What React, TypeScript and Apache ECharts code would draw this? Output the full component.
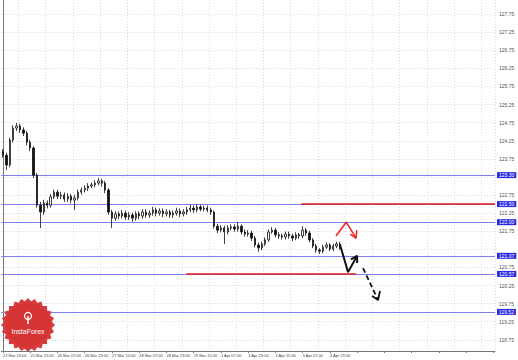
import React, { useEffect, useRef } from "react";
import * as echarts from "echarts";

// 2-hour bars, 8 bars between time labels
const xTickLabels = [
  "22 Mar 23:00", "25 Mar 15:00", "26 Mar 07:00", "26 Mar 23:00", "27 Mar 15:00",
  "28 Mar 07:00", "28 Mar 23:00", "29 Mar 15:00", "1 Apr 07:00", "1 Apr 23:00",
  "2 Apr 15:00", "3 Apr 07:00", "3 Apr 23:00",
];
const BARS_PER_LABEL = 8;
const TOTAL_SLOTS = 145;

const firstOpen = 123.95;
const closes = [
  123.85, 123.58, 124.27, 124.60, 124.66, 124.55, 124.46, 124.21, 124.05, 123.30,
  122.47, 122.28, 122.53, 122.47, 122.70, 122.83, 122.72, 122.75, 122.64, 122.72,
  122.61, 122.67, 122.83, 122.89, 122.94, 123.00, 123.03, 123.08, 123.14, 123.08,
  122.89, 122.28, 122.11, 122.23, 122.17, 122.25, 122.14, 122.20, 122.11, 122.23,
  122.17, 122.28, 122.20, 122.25, 122.34, 122.25, 122.31, 122.23, 122.28, 122.20,
  122.25, 122.31, 122.23, 122.28, 122.34, 122.39, 122.34, 122.42, 122.36, 122.39,
  122.34, 122.28, 121.89, 121.78, 121.84, 121.73, 121.84, 121.87, 121.81, 121.89,
  121.73, 121.67, 121.70, 121.56, 121.37, 121.29, 121.40, 121.51, 121.73, 121.78,
  121.65, 121.62, 121.59, 121.67, 121.62, 121.56, 121.65, 121.62, 121.78, 121.70,
  121.51, 121.34, 121.23, 121.20, 121.31, 121.37, 121.26, 121.34, 121.40, 121.31,
];
const highs = [
  124.02, 123.92, 124.33, 124.68, 124.74, 124.72, 124.62, 124.52, 124.28, 124.10,
  123.36, 122.56, 122.62, 122.60, 122.78, 122.90, 122.90, 122.84, 122.82, 122.80,
  122.78, 122.76, 122.90, 122.96, 123.02, 123.08, 123.10, 123.16, 123.22, 123.20,
  123.14, 122.94, 122.34, 122.30, 122.30, 122.34, 122.32, 122.28, 122.26, 122.30,
  122.30, 122.36, 122.36, 122.32, 122.42, 122.40, 122.38, 122.38, 122.36, 122.34,
  122.32, 122.40, 122.38, 122.36, 122.42, 122.48, 122.46, 122.50, 122.48, 122.46,
  122.46, 122.40, 122.32, 121.96, 121.92, 121.90, 121.92, 121.94, 121.94, 122.00,
  121.94, 121.80, 121.78, 121.76, 121.62, 121.44, 121.46, 121.58, 121.80, 121.86,
  121.84, 121.72, 121.68, 121.74, 121.74, 121.68, 121.72, 121.70, 121.89, 121.84,
  121.76, 121.56, 121.40, 121.28, 121.38, 121.44, 121.42, 121.40, 121.46, 121.46,
];
const lows = [
  123.78, 123.44, 123.52, 124.20, 124.52, 124.47, 124.38, 124.12, 123.96, 123.22,
  122.40, 121.84, 122.20, 122.38, 122.40, 122.64, 122.64, 122.64, 122.56, 122.56,
  122.52, 122.34, 122.60, 122.76, 122.82, 122.86, 122.94, 122.96, 123.02, 122.98,
  122.80, 122.20, 121.84, 122.04, 122.08, 122.10, 122.06, 122.06, 122.02, 122.04,
  122.08, 122.10, 122.12, 122.12, 122.18, 122.16, 122.18, 122.14, 122.16, 122.12,
  122.12, 122.18, 122.14, 122.16, 122.20, 122.28, 122.26, 122.28, 122.30, 122.30,
  122.28, 122.20, 121.82, 121.70, 121.72, 121.40, 121.66, 121.78, 121.74, 121.74,
  121.66, 121.60, 121.60, 121.48, 121.30, 121.18, 121.22, 121.34, 121.46, 121.68,
  121.58, 121.54, 121.52, 121.52, 121.54, 121.48, 121.50, 121.54, 121.56, 121.62,
  121.44, 121.28, 121.16, 121.12, 121.14, 121.26, 121.20, 121.20, 121.28, 121.24,
];

// price axis
const yMin = 118.44;
const yMax = 128.14;
const yTickLabels = [
  127.75, 127.25, 126.75, 126.25, 125.75, 125.25, 124.75, 124.25, 123.75, 123.25,
  122.75, 122.25, 121.75, 121.25, 120.75, 120.25, 119.75, 119.25, 118.75, 118.25,
];

// horizontal levels
const blueLevels = [123.3, 122.5, 122.0, 121.07, 120.57, 119.52];
const currentPrice = 121.31;
const redUpper = [[87.6, 122.5], [144.5, 122.5]];
const redLower = [[53.8, 120.57], [103.7, 120.57]];

// forecast arrows (bar index, price)
const redArrow = [[97.8, 121.62], [100.8, 122.0], [103.7, 121.56]];
const redHead = [[102.0, 121.67], [103.7, 121.56], [103.9, 121.78]];
const blackArrow = [[99.0, 121.37], [101.35, 120.62], [104.0, 121.07]];
const blackHead = [[102.2, 120.97], [104.0, 121.07], [104.0, 120.87]];
const dashArrow = [[105.75, 120.73], [110.15, 119.85]];
const dashHead = [[108.4, 119.96], [110.15, 119.85], [110.74, 120.1]];

const categories = Array.from({ length: TOTAL_SLOTS }, (_, i) => String(i));

function buildCandles() {
  return closes.map((c, i) => {
    const o = i === 0 ? firstOpen : closes[i - 1];
    return [o, c, lows[i], highs[i]];
  });
}

function starPoints(cx: number, cy: number, ro: number, ri: number, n: number) {
  const pts: number[][] = [];
  for (let k = 0; k < n * 2; k++) {
    const r = k % 2 === 0 ? ro : ri;
    const a = (k * Math.PI) / n;
    pts.push([cx + r * Math.cos(a), cy + r * Math.sin(a)]);
  }
  return pts;
}

export default function App() {
  const ref = useRef<HTMLDivElement>(null);
  useEffect(() => {
    if (!ref.current) return;
    const chart = echarts.init(ref.current, undefined, { renderer: "svg" });
    const font = "Liberation Sans";
    const boxed = [...blueLevels, currentPrice];
    const lineSeries = (data: number[][], color: string, width: number, type: any = "solid", z = 5) => ({
      type: "line",
      xAxisIndex: 1,
      data,
      showSymbol: false,
      symbol: "none",
      silent: true,
      z,
      lineStyle: { color, width, type },
    });
    const boxLabel = (v: number, bg: string) => ({
      show: true,
      position: "end",
      distance: 2,
      fontSize: 5,
      lineHeight: 5,
      fontFamily: font,
      color: "#ffffff",
      backgroundColor: bg,
      padding: [0.5, 2],
      formatter: () => v.toFixed(2),
    });
    chart.setOption({
      animation: false,
      backgroundColor: "#ffffff",
      grid: { left: 0, right: 23, top: 0, bottom: 9, containLabel: false },
      xAxis: [
        {
          type: "category",
          data: categories,
          boundaryGap: true,
          axisLine: { show: true, lineStyle: { color: "#777", width: 1 } },
          axisTick: { show: true, interval: BARS_PER_LABEL - 1, alignWithLabel: true, length: 2, lineStyle: { color: "#777" } },
          axisLabel: {
            interval: BARS_PER_LABEL - 1,
            align: "left",
            margin: 2,
            fontSize: 4,
            fontFamily: font,
            color: "#444",
            formatter: (_v: string, idx: number) => {
              const k = idx / BARS_PER_LABEL;
              return Number.isInteger(k) && k < xTickLabels.length ? xTickLabels[k] : "";
            },
          },
          splitLine: {
            show: true,
            interval: (idx: number) => idx % BARS_PER_LABEL === 5,
            lineStyle: { color: "#dadada", type: [1, 2], width: 1 },
          },
        },
        { type: "value", min: -0.5, max: TOTAL_SLOTS - 0.5, show: false },
      ],
      yAxis: {
        type: "value",
        position: "right",
        min: yMin,
        max: yMax,
        axisLine: { show: true, lineStyle: { color: "#777", width: 1 } },
        axisTick: { show: false },
        axisLabel: { show: false },
        splitLine: { show: false },
      },
      series: [
        {
          type: "candlestick",
          data: buildCandles(),
          barWidth: "55%",
          z: 3,
          itemStyle: {
            color: "#ffffff",
            color0: "#111111",
            borderColor: "#111111",
            borderColor0: "#111111",
            borderWidth: 0.8,
          },
          markLine: {
            silent: true,
            symbol: "none",
            z: 1,
            data: [
              ...yTickLabels
                .filter((v) => v >= yMin && v <= yMax)
                .map((v) => {
                  const hidden = boxed.some((b) => Math.abs(b - v) < 0.17);
                  return {
                    yAxis: v,
                    lineStyle: { color: "#dadada", type: [1, 2], width: 1 },
                    label: {
                      show: !hidden,
                      position: "end",
                      distance: 4,
                      fontSize: 5,
                      fontFamily: font,
                      color: "#555",
                      formatter: () => v.toFixed(2),
                    },
                  };
                }),
              ...blueLevels.map((v) => ({
                yAxis: v,
                lineStyle: { color: "#7f7ff2", type: "solid", width: 1 },
                label: boxLabel(v, "#2a2ae6"),
              })),
              {
                yAxis: currentPrice,
                lineStyle: { color: "#000", opacity: 0, width: 0 },
                label: boxLabel(currentPrice, "#111111"),
              },
            ],
          },
        },
        lineSeries(redUpper, "#e01b1b", 1.5, "solid", 6),
        lineSeries(redLower, "#e01b1b", 1.5, "solid", 6),
        lineSeries(redArrow, "#ee2222", 1.5),
        lineSeries(redHead, "#ee2222", 1.5),
        lineSeries(blackArrow, "#111111", 2),
        lineSeries(blackHead, "#111111", 2),
        lineSeries(dashArrow, "#111111", 1.8, [5, 3]),
        lineSeries(dashHead, "#111111", 1.8),
      ],
      graphic: [
        {
          type: "polygon",
          shape: { points: starPoints(28, 325, 27, 24, 24) },
          style: { fill: "#d83b3b" },
          z: 20,
        },
        {
          type: "circle",
          shape: { cx: 28, cy: 325, r: 22 },
          style: { fill: "#d43434" },
          z: 21,
        },
        {
          type: "circle",
          shape: { cx: 28, cy: 316, r: 3.5 },
          style: { fill: "none", stroke: "#ffffff", lineWidth: 1.2 },
          z: 22,
        },
        {
          type: "line",
          shape: { x1: 28, y1: 316, x2: 28, y2: 324 },
          style: { stroke: "#ffffff", lineWidth: 1.5 },
          z: 22,
        },
        {
          type: "text",
          x: 28,
          y: 331,
          style: {
            text: "InstaForex",
            fill: "#ffffff",
            fontSize: 7,
            fontFamily: font,
            align: "center",
            verticalAlign: "middle",
          },
          z: 22,
        },
      ],
    });
    return () => chart.dispose();
  }, []);
  return (
    <div
      ref={ref}
      style={{ position: "fixed", left: 0, top: 0, width: 518, height: 360 }}
    />
  );
}
